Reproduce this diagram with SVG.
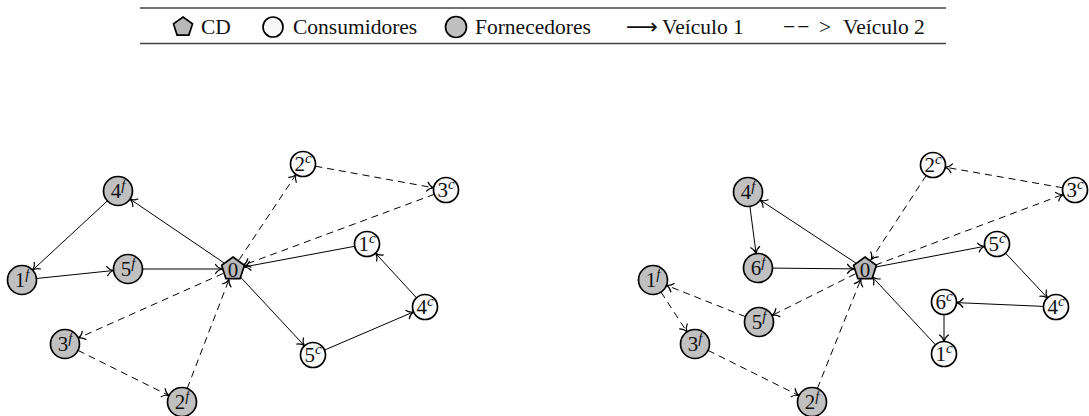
<svg xmlns="http://www.w3.org/2000/svg" width="1089" height="416" viewBox="0 0 1089 416">
<style>
.f{fill:#c0c0c0;stroke:#000;stroke-width:1.7}
.c{fill:#f8f8f8;stroke:#000;stroke-width:1.7}
.p{fill:#b8b8b8;stroke:#000;stroke-width:1.7}
.lbl{font-size:21px;fill:#111;text-anchor:middle}
.sup{font-style:italic;font-size:15px}
.lg{font-size:21.5px;fill:#111}
.e{stroke:#000;stroke-width:1;fill:none;marker-end:url(#arr)}
.d{stroke-dasharray:7 5}
.rule{stroke:#444;stroke-width:1.3}
</style>
<defs>
<marker id="arr" markerUnits="userSpaceOnUse" orient="auto" viewBox="-8 -6 10 12" refX="0" refY="0" markerWidth="10" markerHeight="12">
<path d="M -6.5,-4.5 C -4.8,-1.8 -1.8,-0.4 0,0 C -1.8,0.4 -4.8,1.8 -6.5,4.5" fill="none" stroke="#000" stroke-width="1.2" stroke-linecap="round"/>
</marker>
<polygon id="pent" points="0,-12 11.41,-3.71 7.05,9.71 -7.05,9.71 -11.41,-3.71"/>
</defs>
<rect width="1089" height="416" fill="#fff"/>

<g id="legend" font-family="Liberation Serif, Times New Roman, serif">
<line class="rule" x1="140" y1="8" x2="946" y2="8"/>
<line class="rule" x1="140" y1="43.5" x2="946" y2="43.5"/>
<polygon class="p" points="183,17 192.5,23.9 188.9,35.1 177.1,35.1 173.5,23.9"/>
<text class="lg" x="201" y="34">CD</text>
<circle class="c" cx="273" cy="27" r="10"/>
<text class="lg" x="293" y="34">Consumidores</text>
<circle class="f" cx="456" cy="27" r="10.5"/>
<text class="lg" x="475" y="34">Fornecedores</text>
<text class="lg" x="626" y="34" textLength="32" lengthAdjust="spacingAndGlyphs" font-family="DejaVu Sans, sans-serif">⟶</text>
<text class="lg" x="662" y="34">Veículo 1</text>
<text class="lg" x="783" y="34" letter-spacing="2">−−</text>
<text class="lg" x="819" y="34">&gt;</text>
<text class="lg" x="843" y="34">Veículo 2</text>
</g>

<g id="connectors">
<line class="e" x1="223.9" y1="262.8" x2="130.0" y2="199.1"/>
<line class="e" x1="107.4" y1="200.9" x2="32.6" y2="270.1"/>
<line class="e" x1="36.4" y1="278.5" x2="113.6" y2="270.5"/>
<line class="e" x1="142.5" y1="269" x2="222" y2="269"/>
<line class="e" x1="240.5" y1="277.1" x2="304.5" y2="345.8"/>
<line class="e" x1="324.5" y1="350.1" x2="413.5" y2="311.9"/>
<line class="e" x1="416.5" y1="297.8" x2="375.5" y2="253.2"/>
<line class="e" x1="354.7" y1="246.3" x2="243.8" y2="267.0"/>
<line class="e d" x1="239.1" y1="259.8" x2="296.1" y2="174.4"/>
<line class="e d" x1="315.3" y1="166.2" x2="433.7" y2="187.8"/>
<line class="e d" x1="434.3" y1="194.3" x2="243.3" y2="265.2"/>
<line class="e d" x1="223.0" y1="273.5" x2="78.2" y2="338.1"/>
<line class="e d" x1="78.0" y1="350.4" x2="169.0" y2="395.6"/>
<line class="e d" x1="187.2" y1="388.5" x2="229.1" y2="279.3"/>
<line class="e" x1="855.8" y1="263.0" x2="760.1" y2="200.0"/>
<line class="e" x1="749.9" y1="206.4" x2="756.1" y2="253.6"/>
<line class="e" x1="772.5" y1="268.1" x2="854" y2="268.9"/>
<line class="e" x1="875.8" y1="267.0" x2="984.7" y2="246.3"/>
<line class="e" x1="1005.5" y1="253.1" x2="1047.5" y2="297.9"/>
<line class="e" x1="1043.5" y1="306.4" x2="956.5" y2="302.6"/>
<line class="e" x1="944" y1="314.5" x2="944" y2="341.5"/>
<line class="e" x1="935.5" y1="344.8" x2="872.5" y2="277.1"/>
<line class="e d" x1="875.3" y1="265.1" x2="1063.3" y2="194.4"/>
<line class="e d" x1="1062.7" y1="187.8" x2="945.3" y2="167.2"/>
<line class="e d" x1="926.2" y1="175.5" x2="871.0" y2="259.8"/>
<line class="e d" x1="855.2" y1="273.9" x2="772.0" y2="315.5"/>
<line class="e d" x1="745.5" y1="316.7" x2="666.5" y2="285.3"/>
<line class="e d" x1="661.0" y1="292.1" x2="687.0" y2="331.9"/>
<line class="e d" x1="708.0" y1="350.4" x2="799.0" y2="395.6"/>
<line class="e d" x1="817.4" y1="388.5" x2="860.9" y2="279.2"/>
</g>

<g id="nodes" font-family="Liberation Serif, Times New Roman, serif">
<g id="L-0"><use href="#pent" class="p" x="233" y="269"/><text class="lbl" x="233" y="276.5" font-size="20">0</text></g>
<g id="L-4f"><circle class="f" cx="118" cy="191" r="14.5"/><text class="lbl" x="118" y="198">4<tspan class="sup" dy="-8">f</tspan></text></g>
<g id="L-5f"><circle class="f" cx="128" cy="269" r="14.5"/><text class="lbl" x="128" y="276">5<tspan class="sup" dy="-8">f</tspan></text></g>
<g id="L-1f"><circle class="f" cx="22" cy="280" r="14.5"/><text class="lbl" x="22" y="287">1<tspan class="sup" dy="-8">f</tspan></text></g>
<g id="L-3f"><circle class="f" cx="65" cy="344" r="14.5"/><text class="lbl" x="65" y="351">3<tspan class="sup" dy="-8">f</tspan></text></g>
<g id="L-2f"><circle class="f" cx="182" cy="402" r="14.5"/><text class="lbl" x="182" y="409">2<tspan class="sup" dy="-8">f</tspan></text></g>
<g id="L-2c"><circle class="c" cx="303" cy="164" r="12.5"/><text class="lbl" x="303" y="171">2<tspan class="sup" dy="-8">c</tspan></text></g>
<g id="L-3c"><circle class="c" cx="446" cy="190" r="12.5"/><text class="lbl" x="446" y="197">3<tspan class="sup" dy="-8">c</tspan></text></g>
<g id="L-1c"><circle class="c" cx="367" cy="244" r="12.5"/><text class="lbl" x="367" y="251">1<tspan class="sup" dy="-8">c</tspan></text></g>
<g id="L-4c"><circle class="c" cx="425" cy="307" r="12.5"/><text class="lbl" x="425" y="314">4<tspan class="sup" dy="-8">c</tspan></text></g>
<g id="L-5c"><circle class="c" cx="313" cy="355" r="12.5"/><text class="lbl" x="313" y="362">5<tspan class="sup" dy="-8">c</tspan></text></g>
<g id="R-0"><use href="#pent" class="p" x="865" y="269"/><text class="lbl" x="865" y="276.5" font-size="20">0</text></g>
<g id="R-4f"><circle class="f" cx="748" cy="192" r="14.5"/><text class="lbl" x="748" y="199">4<tspan class="sup" dy="-8">f</tspan></text></g>
<g id="R-6f"><circle class="f" cx="758" cy="268" r="14.5"/><text class="lbl" x="758" y="275">6<tspan class="sup" dy="-8">f</tspan></text></g>
<g id="R-1f"><circle class="f" cx="653" cy="280" r="14.5"/><text class="lbl" x="653" y="287">1<tspan class="sup" dy="-8">f</tspan></text></g>
<g id="R-5f"><circle class="f" cx="759" cy="322" r="14.5"/><text class="lbl" x="759" y="329">5<tspan class="sup" dy="-8">f</tspan></text></g>
<g id="R-3f"><circle class="f" cx="695" cy="344" r="14.5"/><text class="lbl" x="695" y="351">3<tspan class="sup" dy="-8">f</tspan></text></g>
<g id="R-2f"><circle class="f" cx="812" cy="402" r="14.5"/><text class="lbl" x="812" y="409">2<tspan class="sup" dy="-8">f</tspan></text></g>
<g id="R-2c"><circle class="c" cx="933" cy="165" r="12.5"/><text class="lbl" x="933" y="172">2<tspan class="sup" dy="-8">c</tspan></text></g>
<g id="R-3c"><circle class="c" cx="1075" cy="190" r="12.5"/><text class="lbl" x="1075" y="197">3<tspan class="sup" dy="-8">c</tspan></text></g>
<g id="R-5c"><circle class="c" cx="997" cy="244" r="12.5"/><text class="lbl" x="997" y="251">5<tspan class="sup" dy="-8">c</tspan></text></g>
<g id="R-4c"><circle class="c" cx="1056" cy="307" r="12.5"/><text class="lbl" x="1056" y="314">4<tspan class="sup" dy="-8">c</tspan></text></g>
<g id="R-6c"><circle class="c" cx="944" cy="302" r="12.5"/><text class="lbl" x="944" y="309">6<tspan class="sup" dy="-8">c</tspan></text></g>
<g id="R-1c"><circle class="c" cx="944" cy="354" r="12.5"/><text class="lbl" x="944" y="361">1<tspan class="sup" dy="-8">c</tspan></text></g>
</g>
</svg>
